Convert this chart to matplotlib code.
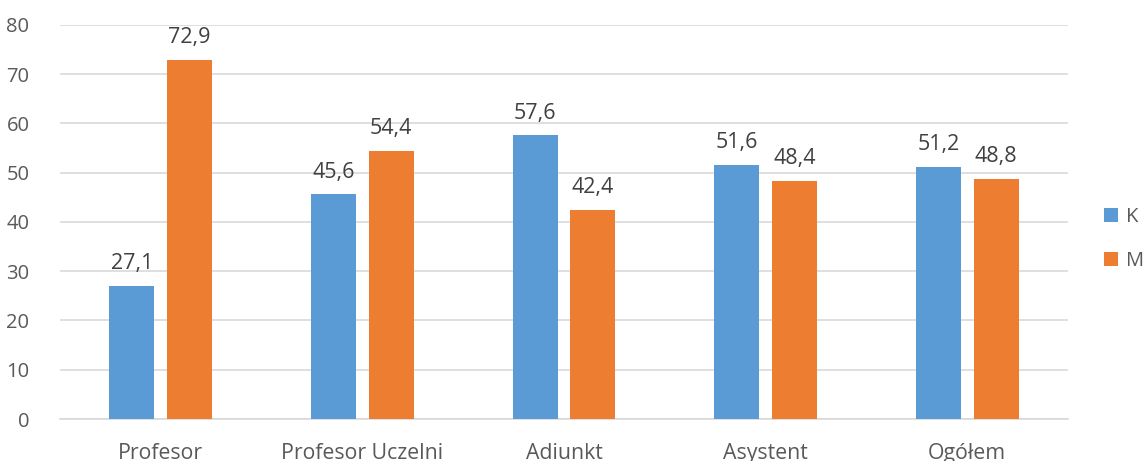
import numpy as np
import matplotlib as mpl
mpl.use('Agg')
import matplotlib.pyplot as plt

categories = ['Profesor', 'Profesor Uczelni', 'Adiunkt', 'Asystent', 'Ogółem']
kobiety = [27.1, 45.6, 57.6, 51.6, 51.2]
mezczyzni = [72.9, 54.4, 42.4, 48.4, 48.8]

plt.rcParams['font.family'] = ['Open Sans', 'DejaVu Sans']
textColor = '#595959'

fg = plt.figure(figsize=(11.45, 4.61), dpi=100)
ax = fg.add_axes([0.0524, 0.0911, 0.8804, 0.8547])

x = np.arange(len(categories))
w = 0.223
off = 0.143
barsK = ax.bar(x - off, kobiety, w, color='#5B9BD5', label='K', zorder=3)
barsM = ax.bar(x + off, mezczyzni, w, color='#ED7D31', label='M', zorder=3)

for bars, vals in ((barsK, kobiety), (barsM, mezczyzni)):
    for b, v in zip(bars, vals):
        ax.annotate('{:.1f}'.format(v).replace('.', ','),
                    xy=(b.get_x() + b.get_width() / 2, v),
                    xytext=(0, 8.5), textcoords='offset points',
                    ha='center', va='bottom', fontsize=15.5, color='#404040')

ax.set_xlim(-0.5, len(categories) - 0.5)
ax.set_ylim(0, 80)
ax.set_yticks(range(0, 81, 10))
ax.yaxis.grid(True, color='#D9D9D9', linewidth=1.2, zorder=0)
ax.set_xticks(x)
ax.set_xticklabels(categories)
ax.tick_params(axis='both', length=0, labelcolor=textColor)
ax.tick_params(axis='x', pad=17, labelsize=15.3)
ax.tick_params(axis='y', pad=22, labelsize=14.5)
for s in ['top', 'right', 'left']:
    ax.spines[s].set_visible(False)
ax.spines['bottom'].set_color('#D9D9D9')
ax.spines['bottom'].set_linewidth(1.2)

fg.legend(handles=[barsK, barsM], loc='center left', bbox_to_anchor=(0.9485, 0.482),
          frameon=False, fontsize=14.5, handlelength=0.7, handleheight=0.7,
          handletextpad=0.4, labelspacing=1.2, labelcolor=textColor)

fg.savefig('out.png', dpi=100)
